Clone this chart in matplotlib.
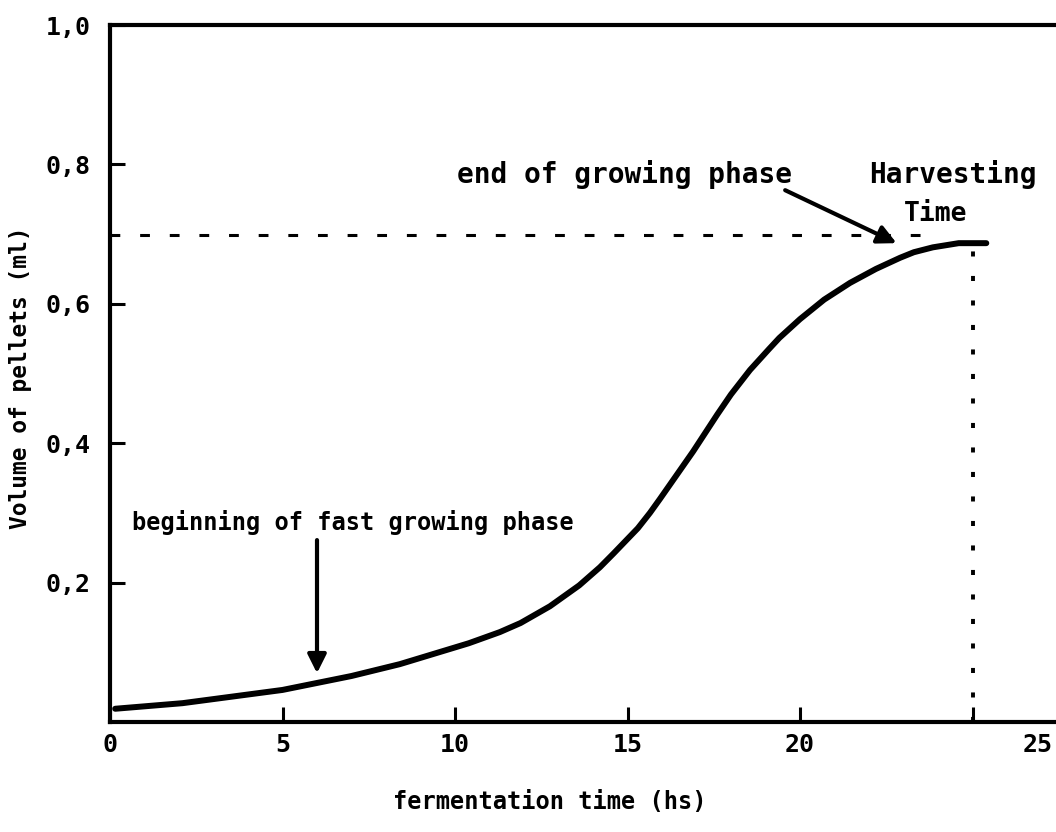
import matplotlib
matplotlib.use("Agg")
import matplotlib.pyplot as plt
from matplotlib.transforms import ScaledTranslation

# growth curve
time_h = [0.15, 2.1, 5.0, 7.0, 8.4, 9.0, 10.4, 11.3, 11.9, 12.75, 13.6, 14.2, 14.6,
          15.3, 15.65, 15.94, 16.9, 17.6, 18.0, 18.55, 19.1, 19.4, 20.0, 20.7,
          21.45, 22.2, 22.9, 23.3, 23.85, 24.6, 25.4]
volume_ml = [0.019, 0.027, 0.046, 0.066, 0.083, 0.092, 0.113, 0.129, 0.142, 0.166,
             0.196, 0.222, 0.242, 0.278, 0.300, 0.320, 0.388, 0.441, 0.470, 0.505,
             0.535, 0.551, 0.578, 0.606, 0.630, 0.650, 0.666, 0.674, 0.681, 0.687,
             0.687]

x_ticks = [0, 5, 10, 15, 20, 25]
x_tick_labels = ["0", "5", "10", "15", "20", "25"]
y_ticks = [0.2, 0.4, 0.6, 0.8, 1.0]
y_tick_labels = ["0,2", "0,4", "0,6", "0,8", "1,0"]

plateau_level = 0.698      # dashed guide
plateau_guide_end = 23.9
harvest_time = 25.0        # dotted guide

fast_start = (6.0, 0.070)          # arrow tip
fast_label = (0.65, 0.261)
end_growth = (22.8, 0.687)
end_label_tail = (19.57, 0.763)

mono = "DejaVu Sans Mono"
plt.rcParams["font.family"] = mono
plt.rcParams["font.weight"] = "bold"
plt.rcParams["axes.labelweight"] = "bold"

fig = plt.figure(figsize=(10.56, 8.32), dpi=100)
ax = fig.add_axes([110 / 1056, 1 - 722 / 832, 1 - 110 / 1056, (722 - 25) / 832])

ax.plot(time_h, volume_ml, color="black", lw=4.3, solid_capstyle="round",
        solid_joinstyle="round", zorder=3)

# guide lines
ax.plot([0, plateau_guide_end], [plateau_level, plateau_level], color="black",
        lw=2.2, dashes=(3.2, 6.5), zorder=2)
ax.plot([harvest_time, harvest_time], [0, volume_ml[-2]], color="black",
        lw=2.8, dashes=(1.3, 5.0), zorder=2)

ax.set_xlim(0, (1056 - 110) / 34.5)
ax.set_ylim(0, 1.0)

for side in ["left", "bottom", "top"]:
    ax.spines[side].set_linewidth(3)
ax.spines["right"].set_visible(False)

ax.set_xticks(x_ticks, labels=x_tick_labels)
ax.set_yticks(y_ticks, labels=y_tick_labels)
ax.tick_params(axis="x", direction="in", length=11, width=2.2, labelsize=18, pad=8)
ax.tick_params(axis="y", direction="in", length=11, width=2.2, labelsize=18, pad=14)

# the "25" label sits well to the right of its tick in the original
lab25 = ax.get_xticklabels()[-1]
lab25.set_transform(lab25.get_transform() + ScaledTranslation(0.65, 0, fig.dpi_scale_trans))

ax.set_xlabel("fermentation time (hs)", fontsize=17)
ax.xaxis.set_label_coords((550 - 110) / 946, -68 / 697)
ax.set_ylabel("Volume of pellets (ml)", fontsize=16.5)
ax.yaxis.set_label_coords(-78 / 946, (722 - 378) / 697)

arrow = dict(arrowstyle="-|>", color="black", lw=3, mutation_scale=28,
             shrinkA=0, shrinkB=0)
ax.annotate("", xy=fast_start, xytext=(fast_start[0], fast_label[1]), arrowprops=arrow)
ax.text(fast_label[0], fast_label[1] + 0.007, "beginning of fast growing phase",
        fontsize=17, ha="left", va="bottom")

ax.annotate("", xy=end_growth, xytext=end_label_tail, arrowprops=arrow)
ax.text(10.06, 0.786, "end of growing phase", fontsize=20, ha="left", va="center")
ax.text(22.0, 0.786, "Harvesting", fontsize=20, ha="left", va="center")
ax.text(23.0, 0.729, "Time", fontsize=19, ha="left", va="center")

fig.savefig("out.png", dpi=100)
